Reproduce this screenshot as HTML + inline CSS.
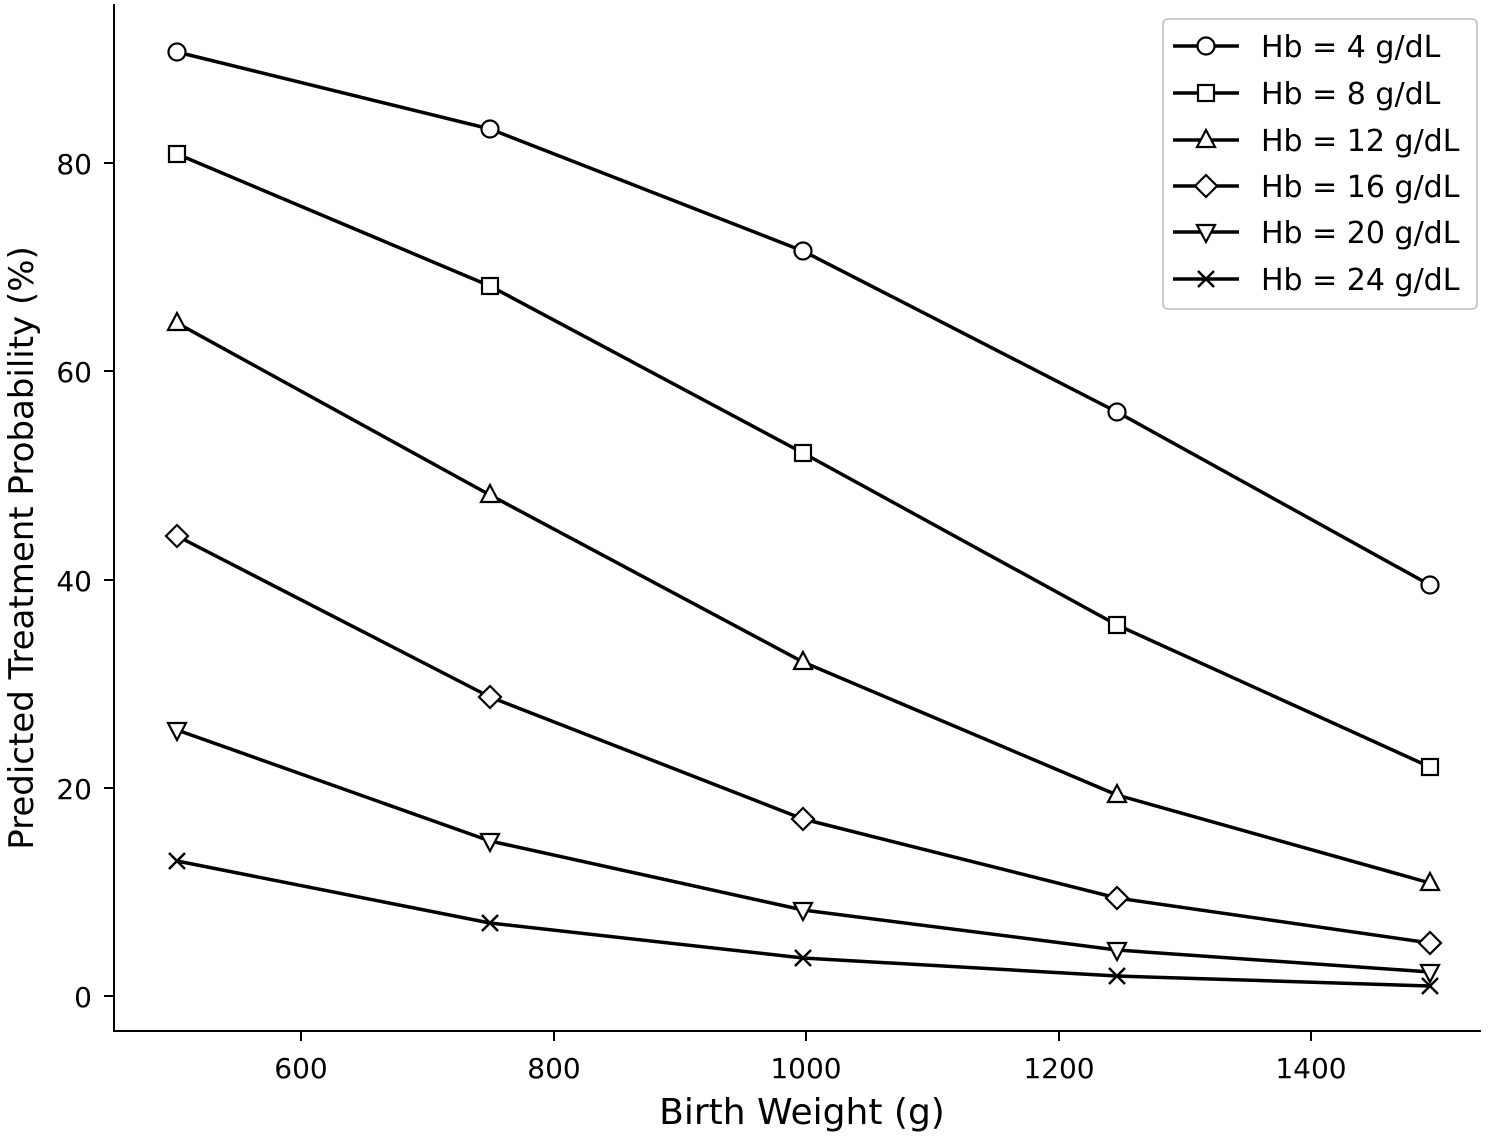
<!DOCTYPE html>
<html><head><meta charset="utf-8"><style>
html,body{margin:0;padding:0;background:#fff;}
svg text{font-family:"DejaVu Sans","Liberation Sans",sans-serif;fill:#000;}
</style></head><body>
<svg id="s" width="1498" height="1138" xmlns="http://www.w3.org/2000/svg">
<rect width="1498" height="1138" fill="#fff"/>
<g stroke="#000" stroke-width="2" fill="none">
<line x1="114" y1="4" x2="114" y2="1032"/>
<line x1="113" y1="1031" x2="1481" y2="1031"/>
</g>
<g id="ticks" stroke="#000" stroke-width="2"></g>
<g font-size="28" text-anchor="end" id="yl"></g>
<g font-size="28" text-anchor="middle" id="xl"></g>
<text x="802" y="1124" font-size="36" text-anchor="middle">Birth Weight (g)</text>
<text transform="translate(33,548) rotate(-90)" font-size="34" text-anchor="middle">Predicted Treatment Probability (%)</text>
<g id="series"></g>
<rect x="1163" y="19" width="314" height="290" rx="5" fill="#fff" stroke="#ccc" stroke-width="2"/>
<g id="leg"></g>
</svg>
<script>
const NS="http://www.w3.org/2000/svg";
function el(p,t,a,txt){const e=document.createElementNS(NS,t);for(const k in a)e.setAttribute(k,a[k]);if(txt!==undefined)e.textContent=txt;document.getElementById(p).appendChild(e);return e;}
const yv=[0,20,40,60,80],yp=[996,788,580,371,163];
yv.forEach((v,i)=>{el('ticks','line',{x1:104,y1:yp[i],x2:114,y2:yp[i]});el('yl','text',{x:92,y:yp[i]+11},v);});
const xv=[600,800,1000,1200,1400],xp=[301,554,806,1059,1311];
xv.forEach((v,i)=>{el('ticks','line',{x1:xp[i],y1:1031,x2:xp[i],y2:1041});el('xl','text',{x:xp[i],y:1078},v);});
const X=[177,490,803,1117,1430];
const D=[[52,129,251,412,585],[154,286,453,625,767],[323,495,662,795,883],[536,697,819,898,943],[730,841,910,950,972],[861,923,958,976,986]];
const names=['Hb = 4 g/dL','Hb = 8 g/dL','Hb = 12 g/dL','Hb = 16 g/dL','Hb = 20 g/dL','Hb = 24 g/dL'];
function marker(g,k,x,y){const a={fill:'#fff',stroke:'#000','stroke-width':2.2};
 if(k==0)el(g,'circle',Object.assign({cx:x,cy:y,r:8.5},a));
 else if(k==1)el(g,'rect',Object.assign({x:x-8,y:y-8,width:16,height:16},a));
 else if(k==2)el(g,'polygon',Object.assign({points:`${x},${y-10} ${x+9},${y+7} ${x-9},${y+7}`},a));
 else if(k==3)el(g,'polygon',Object.assign({points:`${x},${y-11} ${x+11},${y} ${x},${y+11} ${x-11},${y}`},a));
 else if(k==4)el(g,'polygon',Object.assign({points:`${x},${y+10} ${x+9},${y-7} ${x-9},${y-7}`},a));
 else {el(g,'path',{d:`M${x-8} ${y-8}L${x+8} ${y+8}M${x-8} ${y+8}L${x+8} ${y-8}`,stroke:'#000','stroke-width':2.5});}
}
D.forEach((ys,k)=>{el('series','polyline',{points:X.map((x,i)=>x+','+ys[i]).join(' '),fill:'none',stroke:'#000','stroke-width':3.5,'stroke-linejoin':'round'});
 ys.forEach((y,i)=>marker('series',k,X[i],y));});
const LY=[46,93,140,186,232,279];
names.forEach((n,k)=>{const y=LY[k];el('leg','line',{x1:1173,y1:y,x2:1239,y2:y,stroke:'#000','stroke-width':3.5});marker('leg',k,1206,y);
 el('leg','text',{x:1261,y:y+11,'font-size':30},n);});
</script>
</body></html>
